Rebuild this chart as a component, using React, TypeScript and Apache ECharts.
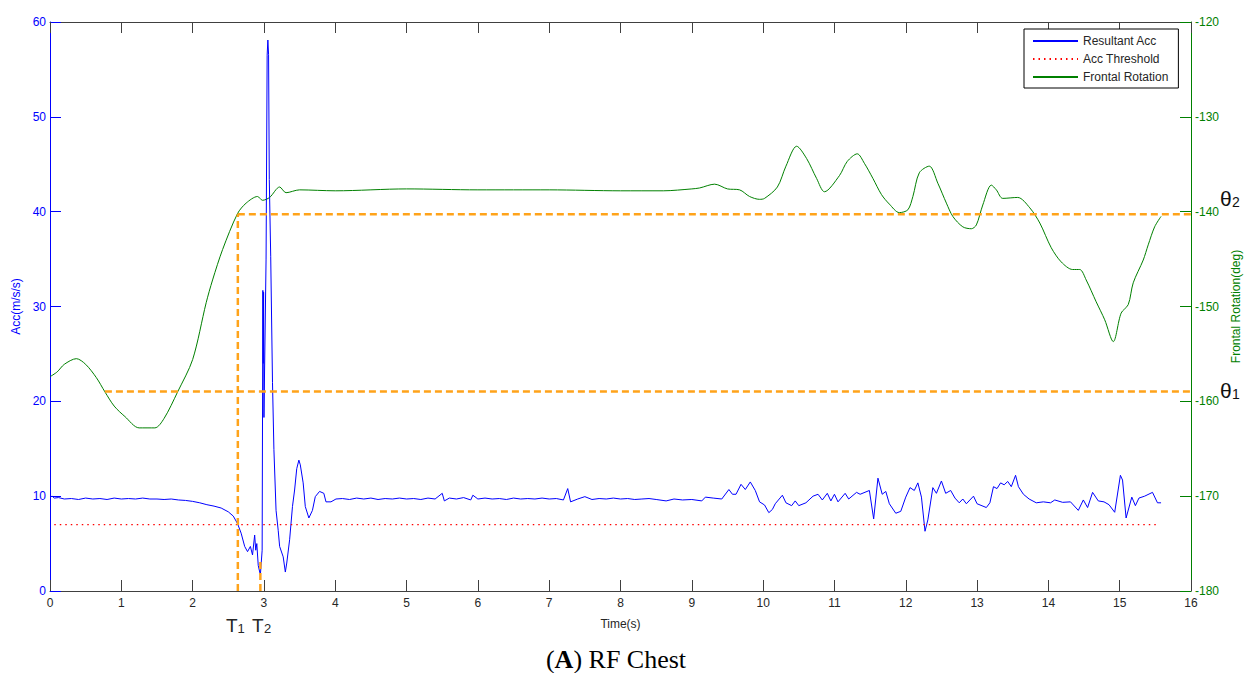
import React, { useEffect, useRef } from "react";
import * as echarts from "echarts";

// ---- Data ----
const accTime = [
  0.0, 0.03, 0.06, 0.12, 0.2, 0.3, 0.4, 0.5, 0.6, 0.7, 0.8, 0.9, 1.0, 1.1, 1.2, 1.3, 1.4, 1.5, 1.6, 1.7, 1.8, 1.9,
  2.0, 2.1, 2.2, 2.3, 2.4, 2.5, 2.57, 2.63, 2.68, 2.73, 2.77, 2.81, 2.84, 2.87, 2.885, 2.9, 2.92, 2.95, 2.975,
  2.985, 2.99, 2.995, 3.0, 3.03, 3.045, 3.055, 3.065, 3.075, 3.095, 3.12, 3.14, 3.17, 3.2, 3.22, 3.27, 3.3, 3.32,
  3.36, 3.4, 3.43, 3.46, 3.49, 3.51, 3.55, 3.58, 3.63, 3.68, 3.72, 3.78, 3.84, 3.87, 3.94, 4.01, 4.1, 4.2, 4.3,
  4.4, 4.5, 4.6, 4.7, 4.8, 4.9, 5.0, 5.1, 5.2, 5.3, 5.4, 5.5, 5.53, 5.6, 5.7, 5.8, 5.9, 5.93, 6.0, 6.1, 6.2, 6.3,
  6.4, 6.5, 6.6, 6.7, 6.8, 6.9, 7.0, 7.1, 7.2, 7.26, 7.3, 7.4, 7.5, 7.6, 7.7, 7.8, 7.9, 8.0, 8.1, 8.2, 8.3, 8.4,
  8.5, 8.64, 8.75, 8.87, 9.0, 9.14, 9.19, 9.3, 9.42, 9.52, 9.57, 9.62, 9.69, 9.75, 9.82, 9.89, 9.95, 10.02, 10.08,
  10.13, 10.17, 10.27, 10.32, 10.4, 10.45, 10.5, 10.6, 10.7, 10.77, 10.83, 10.9, 10.95, 11.0, 11.05, 11.15, 11.2,
  11.31, 11.36, 11.49, 11.55, 11.61, 11.67, 11.72, 11.77, 11.86, 11.93, 12.0, 12.06, 12.12, 12.17, 12.22, 12.27,
  12.31, 12.38, 12.43, 12.5, 12.56, 12.63, 12.69, 12.75, 12.8, 12.85, 12.95, 13.0, 13.13, 13.18, 13.23, 13.28,
  13.33, 13.38, 13.43, 13.48, 13.54, 13.58, 13.65, 13.73, 13.83, 13.93, 14.03, 14.09, 14.2, 14.31, 14.42, 14.49,
  14.55, 14.62, 14.7, 14.78, 14.85, 14.93, 15.01, 15.04, 15.09, 15.17, 15.22, 15.27, 15.35, 15.46, 15.53, 15.58,
];
const accValues = [
  9.9, 10.0, 9.8, 9.85, 9.7, 9.75, 9.65, 9.8, 9.7, 9.75, 9.65, 9.8, 9.7, 9.75, 9.7, 9.8, 9.7, 9.7, 9.65, 9.7, 9.6, 9.55,
  9.45, 9.3, 9.1, 8.95, 8.75, 8.35, 7.9, 7.1, 6.1, 4.7, 4.15, 4.7, 3.8, 5.9, 4.3, 5.0, 2.7, 1.7, 4.3,
  31.7, 24.0, 31.5, 18.3, 35.0, 56.5, 58.1, 56.6, 43.4, 35.3, 22.0, 14.9, 8.5, 6.4, 4.7, 3.6, 2.0, 2.95,
  5.4, 8.9, 10.65, 12.9, 13.8, 13.3, 11.4, 8.9, 7.7, 8.5, 9.95, 10.5, 10.3, 9.4, 9.4, 9.7, 9.75, 9.65, 9.8,
  9.7, 9.8, 9.65, 9.75, 9.7, 9.8, 9.7, 9.75, 9.65, 9.8, 9.7, 10.3, 9.5, 9.8, 9.7, 9.85, 9.6, 10.1, 9.7, 9.8, 9.7, 9.75,
  9.65, 9.8, 9.7, 9.75, 9.7, 9.8, 9.7, 9.75, 9.6, 10.8, 9.4, 9.7, 9.95, 9.65, 9.75, 9.7, 9.8, 9.7, 9.75, 9.65, 9.7, 9.75,
  9.65, 9.5, 9.7, 9.6, 9.65, 9.5, 9.9, 9.8, 9.7, 10.7, 10.2, 10.2, 11.25, 10.7, 11.5, 10.6, 9.4, 9.07, 8.26,
  8.6, 9.2, 10.1, 9.3, 9.0, 9.5, 9.0, 9.3, 10.0, 10.2, 9.6, 10.3, 9.5, 10.2, 9.4, 10.3, 9.7,
  10.4, 10.2, 10.6, 7.6, 11.9, 10.2, 10.5, 9.2, 8.2, 8.4, 9.9, 10.9, 10.6, 11.4, 9.9, 6.3,
  7.5, 10.9, 10.3, 11.6, 10.3, 10.6, 9.8, 9.3, 9.7, 9.2, 10.0, 9.2, 8.8, 9.3, 11.0, 10.8,
  11.4, 11.2, 11.55, 11.0, 12.2, 11.0, 10.2, 9.7, 9.3, 9.4, 9.3, 9.6, 9.35, 9.4, 8.5, 9.6,
  8.8, 10.4, 9.5, 9.4, 9.1, 8.3, 12.2, 11.7, 7.7, 9.9, 9.0, 9.8, 10.0, 10.4, 9.3, 9.3,
];

const thresholdTime = [0.06, 15.53];
const thresholdValues = [7, 7];

const rotTime = [
  0, 0.1, 0.2, 0.37, 0.5, 0.65, 0.77, 0.9, 1.05, 1.25, 1.47, 1.6, 1.79, 2.0, 2.19, 2.28, 2.42, 2.63, 2.75, 2.91,
  2.98, 3.08, 3.22, 3.31, 3.5, 4, 5, 6, 7, 8, 8.6, 9.0, 9.11, 9.32, 9.5, 9.67, 9.81, 9.95, 10.02, 10.2, 10.32,
  10.47, 10.61, 10.75, 10.86, 11.07, 11.18, 11.32, 11.42, 11.54, 11.66, 11.77, 11.91, 12.03, 12.1, 12.19, 12.33,
  12.45, 12.57, 12.66, 12.8, 12.92, 12.99, 13.08, 13.2, 13.27, 13.36, 13.57, 13.74, 13.88, 14.04, 14.18, 14.34,
  14.44, 14.53, 14.67, 14.79, 14.91, 15.02, 15.12, 15.19, 15.33, 15.4, 15.49, 15.58,
];
const rotValues = [
  -157.4, -156.9, -156.1, -155.5, -156.1, -157.5, -159.0, -160.5, -161.6, -162.8, -162.8, -161.8, -159.0, -155.6,
  -149.6, -147.2, -144.0, -140.2, -139.1, -138.4, -138.8, -138.5, -137.4, -138.0, -137.7, -137.8, -137.6, -137.7,
  -137.7, -137.8, -137.8, -137.6, -137.5, -137.1, -137.6, -137.7, -138.4, -138.7, -138.6, -137.4, -135.2, -133.1,
  -134.4, -136.5, -137.9, -136.2, -134.7, -133.9, -134.9, -136.5, -138.2, -139.2, -140.1, -139.8, -138.4, -135.9,
  -135.2, -137.0, -139.1, -140.5, -141.6, -141.8, -141.4, -139.3, -137.2, -137.7, -138.6, -138.5, -139.6, -141.2,
  -143.8, -145.3, -146.1, -146.1, -147.2, -149.5, -151.4, -153.7, -150.7, -149.8, -147.5, -145.1, -143.5, -141.6,
  -140.5,
];

// Annotation markers (time in s, angle in deg)
const T1 = 2.634;
const T2 = 2.95;
const T2_TOP = -176.7;
const THETA1 = -158.96;
const THETA1_START = 0.77;
const THETA2 = -140.27;

const xTicks = { min: 0, max: 16, interval: 1 };
const accAxis = { min: 0, max: 60, interval: 10 };
const rotAxis = { min: -180, max: -120, interval: 10 };

const pairs = (t: number[], v: number[]) => t.map((x, i) => [x, v[i]]);

const BLUE = "#0000ff";
const GREEN = "#008000";
const ORANGE = "#ffa31a";
const DARK = "#262626";
const SANS = "'Liberation Sans', Arial, sans-serif";
const SERIF = "'Liberation Serif', 'Times New Roman', serif";

export default function App() {
  const ref = useRef<HTMLDivElement>(null);
  useEffect(() => {
    if (!ref.current) return;
    const chart = echarts.init(ref.current, undefined, { renderer: "svg" });
    const dashed = {
      type: "line",
      yAxisIndex: 1,
      symbol: "none",
      silent: true,
      z: 5,
      lineStyle: { color: ORANGE, width: 2.5, type: [7, 4] },
    };
    chart.setOption({
      animation: false,
      backgroundColor: "#ffffff",
      textStyle: { fontFamily: SANS },
      grid: { left: 50, right: 57, top: 22, bottom: 82, containLabel: false, outerBoundsMode: "none" },
      legend: {
        data: ["Resultant Acc", "Acc Threshold", "Frontal Rotation"],
        orient: "vertical",
        left: 1024,
        top: 29,
        itemWidth: 45,
        itemHeight: 14,
        itemGap: 6,
        padding: [6, 10, 5, 8],
        borderColor: "#000",
        borderWidth: 1,
        borderRadius: 0,
        backgroundColor: "#fff",
        itemStyle: { opacity: 0, borderWidth: 0 },
        textStyle: { fontSize: 12, color: DARK, fontFamily: SANS },
      },
      xAxis: [
        {
          type: "value",
          position: "bottom",
          ...xTicks,
          name: "Time(s)",
          nameLocation: "middle",
          nameGap: 27,
          nameTextStyle: { fontSize: 12, color: DARK, fontFamily: SANS },
          axisLine: { onZero: false, lineStyle: { color: "#404040", width: 1 } },
          axisTick: { inside: true, length: 11, lineStyle: { color: "#404040" } },
          axisLabel: { margin: 6, fontSize: 12, color: DARK, fontFamily: SANS },
          splitLine: { show: false },
        },
        {
          type: "value",
          position: "top",
          ...xTicks,
          axisLine: { onZero: false, lineStyle: { color: "#404040", width: 1 } },
          axisTick: { inside: true, length: 11, lineStyle: { color: "#404040" } },
          axisLabel: { show: false },
          splitLine: { show: false },
        },
      ],
      yAxis: [
        {
          type: "value",
          position: "left",
          ...accAxis,
          name: "Acc(m/s/s)",
          nameLocation: "middle",
          nameRotate: 90,
          nameGap: 28,
          nameTextStyle: { fontSize: 12, color: BLUE, fontFamily: SANS },
          axisLine: { show: true, onZero: false, lineStyle: { color: BLUE, width: 1 } },
          axisTick: { show: true, inside: true, length: 11, lineStyle: { color: BLUE } },
          axisLabel: { margin: 4, fontSize: 12, color: BLUE, fontFamily: SANS },
          splitLine: { show: false },
        },
        {
          type: "value",
          position: "right",
          ...rotAxis,
          name: "Frontal Rotation(deg)",
          nameLocation: "middle",
          nameRotate: 90,
          nameGap: 39,
          nameTextStyle: { fontSize: 12, color: GREEN, fontFamily: SANS },
          axisLine: { show: true, onZero: false, lineStyle: { color: GREEN, width: 1 } },
          axisTick: { show: true, inside: true, length: 11, lineStyle: { color: GREEN } },
          axisLabel: { margin: 4, fontSize: 12, color: GREEN, fontFamily: SANS },
          splitLine: { show: false },
        },
      ],
      series: [
        {
          name: "Frontal Rotation",
          type: "line",
          yAxisIndex: 1,
          symbol: "none",
          smooth: 0.3,
          data: pairs(rotTime, rotValues),
          lineStyle: { color: GREEN, width: 1 },
          itemStyle: { color: GREEN },
          z: 2,
        },
        {
          name: "Resultant Acc",
          type: "line",
          yAxisIndex: 0,
          symbol: "none",
          data: pairs(accTime, accValues),
          lineStyle: { color: BLUE, width: 1 },
          itemStyle: { color: BLUE },
          z: 3,
        },
        {
          name: "Acc Threshold",
          type: "line",
          yAxisIndex: 0,
          symbol: "none",
          data: pairs(thresholdTime, thresholdValues),
          lineStyle: { color: "#ff0000", width: 1.2, type: [1.5, 4] },
          itemStyle: { color: "#ff0000" },
          z: 3,
        },
        { ...dashed, name: "T1 line", data: [[T1, rotAxis.min], [T1, THETA2]] },
        { ...dashed, name: "T2 line", data: [[T2, rotAxis.min], [T2, T2_TOP]] },
        { ...dashed, name: "theta2 line", data: [[T1, THETA2], [xTicks.max, THETA2]] },
        { ...dashed, name: "theta1 line", data: [[THETA1_START, THETA1], [xTicks.max, THETA1]] },
      ],
      graphic: [
        { type: "text", left: 226, top: 616, style: { text: "T", fontSize: 19, fill: DARK, fontFamily: SANS } },
        { type: "text", left: 237.5, top: 622, style: { text: "1", fontSize: 13, fill: DARK, fontFamily: SANS } },
        { type: "text", left: 252, top: 616, style: { text: "T", fontSize: 19, fill: DARK, fontFamily: SANS } },
        { type: "text", left: 264, top: 622, style: { text: "2", fontSize: 13, fill: DARK, fontFamily: SANS } },
        { type: "text", left: 1220, top: 188, style: { text: "θ", fontSize: 21, fill: "#111", fontFamily: SANS } },
        { type: "text", left: 1232, top: 195, style: { text: "2", fontSize: 14, fill: "#111", fontFamily: SANS } },
        { type: "text", left: 1220, top: 380, style: { text: "θ", fontSize: 21, fill: "#111", fontFamily: SANS } },
        { type: "text", left: 1232, top: 387, style: { text: "1", fontSize: 14, fill: "#111", fontFamily: SANS } },
        {
          type: "text",
          x: 616,
          y: 659,
          style: {
            text: "{n|(}{b|A}{n|) RF Chest}",
            align: "center",
            verticalAlign: "middle",
            rich: {
              n: { fontSize: 26, fontFamily: SERIF, fill: "#000" },
              b: { fontSize: 26, fontFamily: SERIF, fontWeight: "bold", fill: "#000" },
            },
          },
        },
      ],
    });
    return () => chart.dispose();
  }, []);
  return (
    <div
      ref={ref}
      style={{ position: "absolute", left: 0, top: 0, width: 1248, height: 673, background: "#fff" }}
    />
  );
}
